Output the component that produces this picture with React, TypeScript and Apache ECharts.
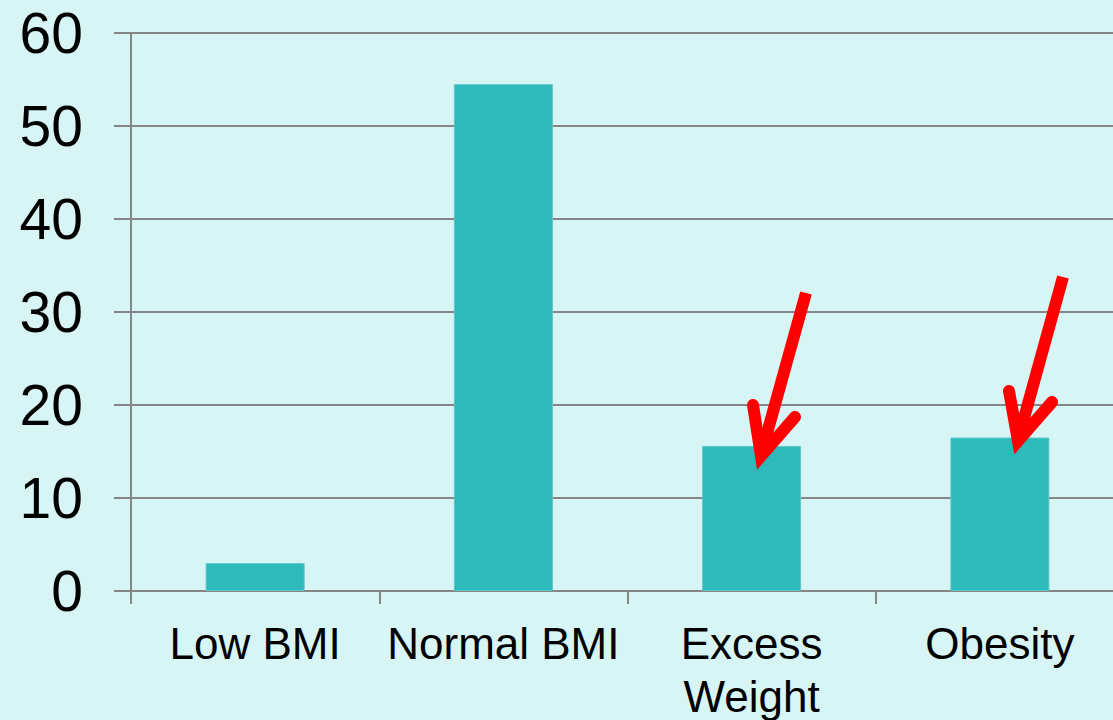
import React, { useEffect, useRef } from "react";
import * as echarts from "echarts";

const categories = ["Low BMI", "Normal BMI", "Excess\nWeight", "Obesity"];
const values = [3.0, 54.5, 15.6, 16.5];
const yTicks = { min: 0, max: 60, interval: 10 };

const arrowShafts = [
  [[806, 293], [761, 455]],
  [[1063, 277], [1018, 440]],
];
const arrowHeads = [
  [[753, 405], [761, 456], [795, 417]],
  [[1009, 391], [1018, 441], [1052, 402]],
];

export default function App() {
  const ref = useRef<HTMLDivElement>(null);
  useEffect(() => {
    const chart = echarts.init(ref.current!, null, { renderer: "svg" });
    const red = "#ff0000";
    const graphic: any[] = [];
    arrowShafts.forEach((s) =>
      graphic.push({
        type: "polyline",
        shape: { points: s },
        style: { stroke: red, lineWidth: 12, lineCap: "butt", fill: null },
        z: 100,
      })
    );
    arrowHeads.forEach((h) =>
      graphic.push({
        type: "polyline",
        shape: { points: h },
        style: { stroke: red, lineWidth: 12, lineCap: "round", lineJoin: "miter", miterLimit: 10, fill: null },
        z: 100,
      })
    );
    chart.setOption({
      animation: false,
      backgroundColor: "#d6f5f4",
      textStyle: { fontFamily: "Liberation Sans, Arial, sans-serif" },
      grid: { left: 131, right: -11, top: 33, bottom: 129, containLabel: false, outerBoundsMode: "none" },
      xAxis: {
        type: "category",
        data: categories,
        axisLine: { lineStyle: { color: "#868686", width: 2 } },
        axisTick: { show: true, length: 13, alignWithLabel: false, lineStyle: { color: "#868686", width: 2 } },
        axisLabel: {
          color: "#000",
          fontSize: 44,
          lineHeight: 53,
          margin: 26,
          interval: 0,
          fontFamily: "Liberation Sans, Arial, sans-serif",
        },
        splitLine: { show: false },
      },
      yAxis: {
        type: "value",
        min: yTicks.min,
        max: yTicks.max,
        interval: yTicks.interval,
        axisLine: { show: true, lineStyle: { color: "#868686", width: 2 } },
        axisTick: { show: true, length: 17, lineStyle: { color: "#868686", width: 2 } },
        axisLabel: {
          color: "#000",
          fontSize: 57,
          margin: 48,
          fontFamily: "Liberation Sans, Arial, sans-serif",
        },
        splitLine: { show: true, lineStyle: { color: "#868686", width: 2 } },
      },
      series: [
        {
          type: "bar",
          data: values,
          barWidth: 99,
          itemStyle: { color: "#2eb9ba", borderColor: "#5ccaca", borderWidth: 1 },
        },
      ],
      graphic,
    });
    return () => chart.dispose();
  }, []);
  return (
    <div
      ref={ref}
      style={{ position: "fixed", left: 0, top: 0, width: 1113, height: 720 }}
    />
  );
}
